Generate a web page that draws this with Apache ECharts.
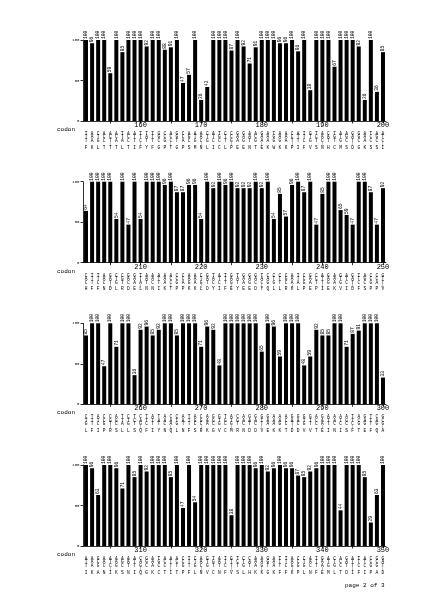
<!DOCTYPE html>
<html><head><meta charset="utf-8">
<script src="https://cdn.jsdelivr.net/npm/echarts@6/dist/echarts.min.js"></script>
<style>html,body{margin:0;padding:0;background:#fff}#c{width:424px;height:600px}</style>
</head><body><div id="c"></div>
<script>
// ---- data ----
const startCodons = [151, 201, 251, 301];

const pct151 = [100,96,100,100,59,100,85,100,100,100, 92,100,100,88,91,100,47,57,100,26,
                42,100,100,100,87,100,92,71,91,100, 100,100,96,96,100,86,100,38,100,100,
                100,67,100,100,100,92,26,100,36,85];
const pct201 = [64,100,100,100,100,54,100,47,100,54, 100,100,100,96,100,87,87,96,96,54,
                100,92,100,96,100,92,92,92,100,92, 100,54,85,57,96,100,87,100,47,85,
                100,100,65,59,47,100,100,87,47,92];
const pct251 = [85,100,100,47,100,71,100,100,36,92, 96,85,92,100,100,85,100,100,100,71,
                96,92,48,100,100,100,100,100,100,65, 100,96,59,100,100,100,48,59,92,85,
                85,100,100,71,87,91,100,100,100,33];
const pct301 = [100,96,63,100,100,96,71,100,85,100, 92,100,100,100,85,100,47,100,54,100,
                100,100,100,100,38,100,100,100,96,100, 92,96,100,96,96,87,85,92,96,100,
                100,100,44,100,100,100,85,29,63,100];

const aa151 = "FKLTTTLTIFYFGPTGPSMNLICLPEENTEKWKKPIFVSNHCMSDGKSSI";
const aa201 = "HFFNDLRDELNNIKTPPKKLDYIFEYEEDYQLLRKLPEPIEKVIDFSPPV";
const aa251 = "LFIPRSLLSQFIYNQLNFSRKGVCMRNDDVEKKTDDVVTEINISFTEFQA";
const aa301 = "IKANIKSNIQGKCTITPFLNVCNFVSLHKKGKFFKPLNFEMLTDIFIPAD";

const codons151 = ("TTT AAA CTG ACC ACT ACA TTA ACC ATT TTC TAT TTT GGC CCG ACC GGT CCA AGC ATG AAC " +
                   "CTG ATC TGC CTT CCG GAA GAG AAT ACG GAA AAA TGG AAG AAA CCT ATT TTC GTG TCT AAC " +
                   "CAT TGT ATG AGC GAT GGC AAA TCC AGC ATC").split(" ");
const codons201 = ("CAC TTT TTC AAC GAT CTG CGT GAC GAA TTA AAT AAC ATT AAA ACC CCG CCA AAG AAA CTG " +
                   "GAT TAC ATC TTT GAG TAT GAA GAG GAC TAC CAG CTG CTT CGC AAA TTA CCG GAA CCT ATT " +
                   "GAG AAA GTG ATC GAT TTC AGC CCG CCA GTT").split(" ");
const codons251 = ("CTG TTT ATC CCG CGT AGC TTA CTG TCT CAG TTC ATT TAT AAC CAA CTG AAT TTT AGC CGC " +
                   "AAA GGC GTG TGC ATG CGT AAC GAT GAC GTT GAA AAA AAG ACC GAT GAC GTG GTT ACC GAA " +
                   "ATT AAC ATC AGC TTC ACG GAG TTT CAG GCG").split(" ");
const codons301 = ("ATT AAA GCG AAC ATC AAG AGC AAT ATT CAG GGC AAA TGC ACC ATT ACT CCG TTT CTG AAC " +
                   "GTG TGT AAT TTC GTT TCT CTG CAT AAA AAG GGT AAA TTT TTC AAG CCG CTG AAC TTT GAA " +
                   "ATG CTG ACC GAT ATT TTC ATC CCG GCG GAT").split(" ");

const yTicks = [0, 50, 100];
const pageLabel = "page 2 of 3";
const axisName = "codon";

// ---- build ----
const panels = [
  {start: startCodons[0], vals: pct151, aa: aa151, cod: codons151},
  {start: startCodons[1], vals: pct201, aa: aa201, cod: codons201},
  {start: startCodons[2], vals: pct251, aa: aa251, cod: codons251},
  {start: startCodons[3], vals: pct301, aa: aa301, cod: codons301}
];
const tops = [40, 181.7, 323.3, 465];
const H = 81;
const FF = '"Liberation Mono","DejaVu Sans Mono",monospace';

const grid = [], xAxis = [], yAxis = [], series = [], graphic = [];
panels.forEach((p, i) => {
  const cats = p.vals.map((_, k) => String(p.start + k));
  grid.push({left: 83, width: 303, top: tops[i], height: H});
  xAxis.push({
    type: 'category', gridIndex: i, data: cats,
    axisLine: {show: true, lineStyle: {color: '#000', width: 0.8}},
    axisTick: {show: true, alignWithLabel: true, length: 2.5,
               interval: (idx, v) => (+v) % 5 === 0, lineStyle: {color: '#000', width: 0.8}},
    axisLabel: {interval: (idx, v) => (+v) % 10 === 0, fontSize: 7, margin: 0.5,
                color: '#000', fontFamily: FF}
  });
  xAxis.push({
    type: 'category', gridIndex: i, data: cats, position: 'bottom',
    axisLine: {show: false}, axisTick: {show: false},
    axisLabel: {
      interval: 0, margin: 11, color: '#000', fontFamily: FF,
      formatter: (v, idx) => {
        const c = p.cod[idx] || '   ';
        const mk = (+v) % 5 === 0 ? '{m||}' : '{n| }';
        return '{n|' + c[0] + '}\n{n|' + c[1] + '}\n{n|' + c[2] + '}\n' + mk + '\n{n|' + p.aa[idx] + '}';
      },
      rich: {
        n: {fontSize: 4.5, lineHeight: 3.45, fontFamily: FF, color: '#000'},
        m: {fontSize: 3, lineHeight: 3.45, fontFamily: FF, color: '#000'}
      }
    }
  });
  yAxis.push({
    type: 'value', gridIndex: i, min: yTicks[0], max: yTicks[2], interval: yTicks[1],
    axisLine: {show: true, lineStyle: {color: '#000', width: 0.8}},
    axisTick: {show: true, length: 2.5, lineStyle: {color: '#000', width: 0.8}},
    axisLabel: {fontSize: 4, margin: 3.5, color: '#000', fontFamily: FF},
    splitLine: {show: false}
  });
  series.push({
    type: 'bar', xAxisIndex: 2 * i, yAxisIndex: i, data: p.vals,
    barWidth: 4, itemStyle: {color: '#000'}, animation: false,
    label: {show: true, position: 'top', rotate: 90, align: 'left', verticalAlign: 'middle',
            distance: 1, fontSize: 4.6, color: '#000', fontFamily: FF}
  });
  graphic.push({type: 'text', left: 57, top: tops[i] + H + 5.5,
    style: {text: axisName, fontSize: 6, fontFamily: FF, fill: '#000'}});
});
graphic.push({type: 'text', left: 345, top: 582,
  style: {text: pageLabel, fontSize: 6, fontFamily: FF, fill: '#000'}});

const chart = echarts.init(document.getElementById('c'), null, {renderer: 'canvas'});
chart.setOption({backgroundColor: '#fff', animation: false, grid, xAxis, yAxis, series, graphic});
</script></body></html>
